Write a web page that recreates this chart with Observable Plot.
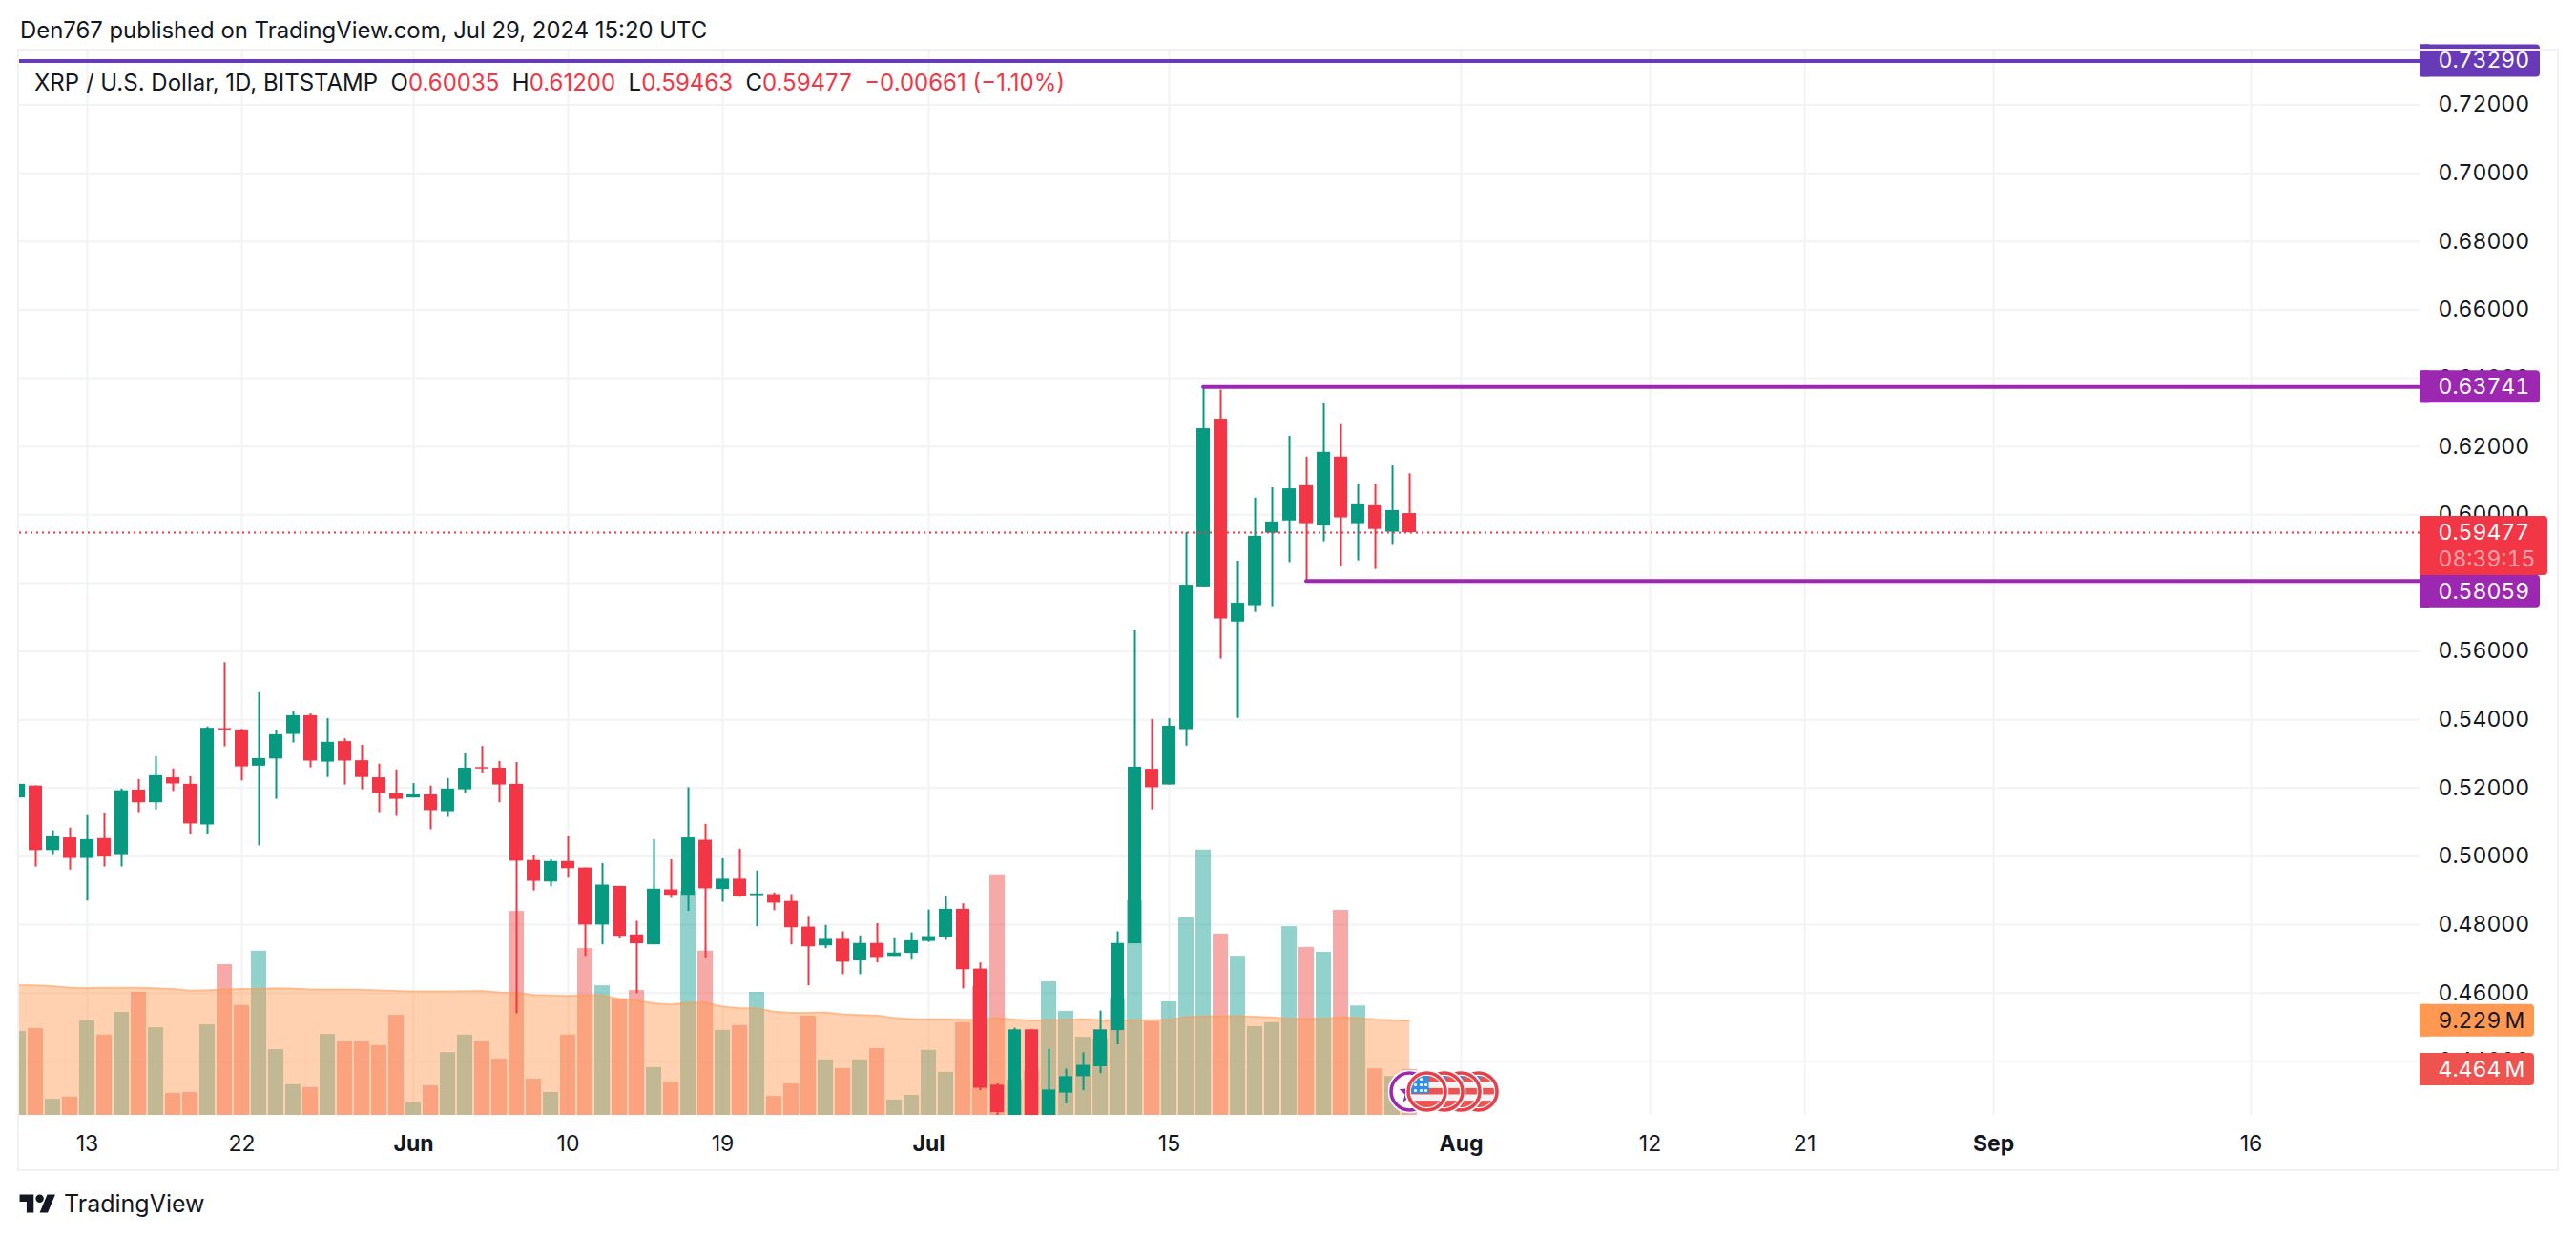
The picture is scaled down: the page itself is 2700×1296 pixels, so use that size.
<!DOCTYPE html>
<html>
<head>
<meta charset="utf-8">
<script src="https://cdn.jsdelivr.net/npm/d3@7"></script>
<script src="https://cdn.jsdelivr.net/npm/@observablehq/plot@0.6"></script>
<style>
html,body{margin:0;padding:0;background:#fff;font-family:Inter,"Noto Sans",sans-serif;color:#131722;width:2700px;height:1296px;overflow:hidden;position:relative}
#head{position:absolute;left:21px;top:16px;font-size:23.9px;line-height:32px;white-space:pre}
#legend{position:absolute;left:36px;top:70px;font-size:24px;line-height:33px;white-space:pre;z-index:2}
#legend b{font-weight:400;color:#f23645}
#chart{position:absolute;left:20px;top:53px}
#chart svg{display:block;outline:2px solid #f0f1f3}
#foot{position:absolute;left:20px;top:1245px;height:34px;display:flex;align-items:center;gap:8px;font-size:25px}
</style>
</head>
<body>
<div id="head">Den767 published on TradingView.com, Jul 29, 2024 15:20 UTC</div>
<div id="legend">XRP / U.S. Dollar, 1D, BITSTAMP  O<b>0.60035</b>  H<b>0.61200</b>  L<b>0.59463</b>  C<b>0.59477</b>  <b>−0.00661 (−1.10%)</b></div>
<div id="chart"></div>
<div id="foot"><svg width="39" height="20" viewBox="0 3.5 36 19"><path fill="#131722" d="M14 22H7V11H0V4h14v18zM28 22h-8l7.5-18h8L28 22z"/><circle fill="#131722" cx="20" cy="8" r="4"/></svg><span>TradingView</span></div>
<script>
const firstDay = "2024-05-09";
const open = [
  .5171,.5206,.5017,.5054,.4994,.5052,.5005,.5194,.5157,.5230,.5211,.5092,.5374,.5370,.5264,.5285,.5357,.5412,.5276,.5336,.5280,.5230,.5183,
  .5171,.5180,.5131,.5195,.5260,.5258,.5211,.4988,.4925,.4985,.4966,.4799,.4912,.4770,.4741,.4902,.4886,.5047,.4903,.4933,.4885,.4888,.4868,.4793,.4738,.4757,.4694,.4745,.4707,.4716,
  .4751,.4763,.4845,.4670,.4330,.4200,.4492,.4200,.4307,.4355,.4384,.4490,.4744,.5255,.5209,.5371,.5789,.6280,.5686,.5734,.5946,.5982,.6085,.5968,.6169,.5974,.6029,.5949,.60035];
const high = [
  .5211,.5206,.5075,.5083,.5119,.5127,.5197,.5225,.5292,.5256,.5233,.5379,.5567,.5372,.5479,.5370,.5425,.5417,.5403,.5344,.5325,.5270,.5253,
  .5213,.5206,.5228,.5300,.5322,.5278,.5275,.5004,.4990,.5057,.4966,.4979,.4912,.4810,.5049,.4990,.5201,.5094,.4993,.5021,.4957,.4893,.4888,.4824,.4798,.4779,.4767,.4803,.4759,.4776,
  .4843,.4881,.4861,.4688,.4334,.4497,.4492,.4435,.4377,.4425,.4547,.4779,.5660,.5401,.5403,.5948,.6374,.6365,.5864,.6049,.6079,.6230,.6169,.6325,.6264,.6090,.6090,.6143,.6120];
const low = [
  .5171,.4969,.5005,.4960,.4869,.4969,.4969,.5128,.5136,.5190,.5064,.5064,.5321,.5221,.5031,.5167,.5332,.5259,.5231,.5209,.5195,.5128,.5117,
  .5171,.5078,.5114,.5184,.5243,.5157,.4539,.4899,.4911,.4936,.4707,.4741,.4758,.4598,.4741,.4877,.4839,.4702,.4866,.4880,.4794,.4841,.4741,.4621,.4730,.4654,.4654,.4688,.4707,.4696,
  .4748,.4754,.4612,.4314,.4241,.4200,.4200,.4200,.4275,.4314,.4364,.4448,.4744,.5136,.5209,.5323,.5786,.5578,.5404,.5714,.5731,.5860,.5806,.5921,.5848,.5865,.5840,.5913,.59463];
const close = [
  .5211,.5017,.5057,.4994,.5049,.4998,.5192,.5157,.5236,.5212,.5095,.5375,.5370,.5262,.5286,.5356,.5412,.5279,.5334,.5279,.5231,.5184,.5167,
  .5180,.5134,.5197,.5258,.5256,.5209,.4986,.4927,.4985,.4964,.4799,.4916,.4766,.4744,.4904,.4886,.5054,.4905,.4933,.4882,.4890,.4863,.4791,.4735,.4757,.4690,.4745,.4704,.4717,.4753,
  .4765,.4845,.4668,.4321,.4250,.4492,.4200,.4316,.4355,.4388,.4492,.4745,.5261,.5201,.5381,.5794,.6252,.5695,.5741,.5937,.5979,.6076,.5974,.6183,.5991,.6032,.5957,.6012,.59477];
const volume = [
  8.19,8.47,1.57,1.78,9.22,7.83,10.04,12.0,8.54,2.14,2.24,8.83,14.7,10.72,16.02,6.41,2.99,2.71,7.9,7.16,7.16,6.8,9.75,
  1.21,2.88,6.12,7.83,7.16,5.48,19.9,3.52,2.24,7.83,16.27,12.64,11.36,12.18,4.66,3.2,21.89,16.02,8.29,8.76,12.0,1.85,3.06,9.68,5.41,4.56,5.41,6.51,1.5,1.96,
  6.34,4.2,9.04,12.53,23.46,3.45,4.34,13.03,10.15,7.62,7.44,11.39,20.93,9.11,11.07,19.26,25.88,17.69,15.52,8.65,9.04,18.41,16.38,15.91,20.0,10.67,4.53,3.79,4.464];
const volumeMA = [
  12.71,12.68,12.6,12.45,12.42,12.43,12.44,12.43,12.4,12.33,12.17,12.2,12.28,12.32,12.35,12.39,12.37,12.28,12.28,12.28,12.25,12.18,12.14,
  12.1,12.1,12.1,12.12,12.14,12.0,11.96,11.75,11.7,11.64,11.71,11.71,11.36,11.2,10.93,10.82,10.97,11.0,10.6,10.47,10.43,10.11,10.0,10.0,10.04,9.86,9.79,9.75,9.5,9.4,
  9.4,9.4,9.36,9.29,9.5,9.36,9.25,9.29,9.33,9.4,9.3,9.25,9.27,9.29,9.36,9.58,9.65,9.68,9.68,9.62,9.55,9.42,9.42,9.44,9.56,9.49,9.34,9.27,9.229];
const priceTicks = [.44,.46,.48,.50,.52,.54,.56,.58,.60,.62,.64,.66,.68,.70,.72];
const dayTicks = ["2024-05-13","2024-05-22","2024-06-10","2024-06-19","2024-07-15","2024-08-12","2024-08-21","2024-09-16"];
const dayLabels = ["13","22","10","19","15","12","21","16"];
const monthTicks = ["2024-06-01","2024-07-01","2024-08-01","2024-09-01"];
const monthLabels = ["Jun","Jul","Aug","Sep"];
const eventDays = ["2024-08-02","2024-08-01","2024-07-31","2024-07-30"];
const starDay = ["2024-07-29"];
const levelTop = 0.7329, levelHigh = 0.63741, levelLow = 0.58059, lastPrice = 0.59477;
const levelHighStart = "2024-07-17", levelLowStart = "2024-07-23";

const up = "#089981", down = "#f23645";
const volUp = "#26a69a", volDown = "#ef5350";
const xLeft = new Date("2024-05-09T01:20Z"), xRight = new Date("2024-09-25T19:55Z");
const yTop = 0.7358, yBase = 0.42416, volStep = 0.003002;
const volY = v => yBase + v * volStep;   // volume pane shares the frame, scaled up from its floor
const day = s => new Date(s + "T00:00Z");

const rows = open.map((o, i) => ({
  date: d3.utcDay.offset(day(firstDay), i),
  open: o, high: high[i], low: low[i], close: close[i],
  vol: volume[i], ma: volumeMA[i], rising: close[i] >= o
}));
const dayDates = dayTicks.map(day), monthDates = monthTicks.map(day);
const allTicks = [...dayDates, ...monthDates];

function flagBadge() {
  const svg = `<svg xmlns="http://www.w3.org/2000/svg" width="46" height="46" viewBox="0 0 46 46"><circle cx="23" cy="23" r="23" fill="#fff"/><clipPath id="c"><circle cx="23" cy="23" r="16.5"/></clipPath><g clip-path="url(#c)"><rect width="46" height="46" fill="#f3f3f6"/><rect y="6" width="46" height="6.6" fill="#ef5350"/><rect y="19.4" width="46" height="6.6" fill="#ef5350"/><rect y="32.6" width="46" height="8" fill="#ef5350"/><rect x="5" y="5" width="20" height="20" fill="#2f8fe6"/><g fill="#fff"><circle cx="11" cy="10" r="1.6"/><circle cx="17" cy="10" r="1.6"/><circle cx="11" cy="16" r="1.6"/><circle cx="17" cy="16" r="1.6"/><circle cx="22" cy="16" r="1.6"/><circle cx="11" cy="22" r="1.6"/><circle cx="17" cy="22" r="1.6"/><circle cx="22" cy="22" r="1.6"/></g></g><circle cx="23" cy="23" r="19.5" fill="none" stroke="#e5404b" stroke-width="3.6"/></svg>`;
  return "data:image/svg+xml," + encodeURIComponent(svg);
}
function starBadge() {
  const svg = `<svg xmlns="http://www.w3.org/2000/svg" width="46" height="46" viewBox="0 0 46 46"><circle cx="23" cy="23" r="23" fill="#fff"/><circle cx="23" cy="23" r="19.5" fill="none" stroke="#9c27b0" stroke-width="3.6"/><path fill="#9c27b0" d="M23 12l3 8 8 .6-6 5.3 2 8-7-4.4-7 4.4 2-8-6-5.3 8-.6z"/></svg>`;
  return "data:image/svg+xml," + encodeURIComponent(svg);
}

function tag({value, label, sub, fill, color, width, height = 34, dy = 0}) {
  const anchor = {x1: () => xRight, x2: () => xRight, y1: d => d, y2: d => d};
  const box = (right, rx) => Plot.rect([value], {...anchor, fill, dy, insetLeft: 0, insetRight: -right, insetTop: -height / 2, insetBottom: -height / 2, rx});
  const txt = {x: () => xRight, y: d => d, dx: 19, textAnchor: "start", fontSize: 23, fontVariant: "tabular-nums", fill: color, lineAnchor: "middle"};
  const marks = [box(width, 4), box(10, 0), Plot.text([value], {...txt, text: () => label, dy: sub ? 0 : dy})];
  if (sub) marks.push(Plot.text([value], {...txt, text: () => sub, dy: 28, fillOpacity: 0.55}));
  return marks;
}

const chart = Plot.plot({
  width: 2660, height: 1173,
  marginLeft: 0, marginRight: 144, marginTop: 0, marginBottom: 57,
  style: {background: "#fff", fontFamily: "Inter, 'Noto Sans', sans-serif", overflow: "visible"},
  x: {type: "utc", domain: [xLeft, xRight], axis: null},
  y: {domain: [yBase, yTop], axis: null},
  marks: [
    Plot.gridY(priceTicks, {stroke: "#f2f3f5", strokeOpacity: 1, strokeWidth: 2}),
    Plot.gridX(allTicks, {stroke: "#f2f3f5", strokeOpacity: 1, strokeWidth: 2}),
    // volume
    Plot.rect(rows, {x1: "date", x2: "date", y1: () => yBase, y2: d => volY(d.vol), insetLeft: -8, insetRight: -8,
      fill: d => d.rising ? volUp : volDown, fillOpacity: 0.5, clip: true}),
    Plot.areaY(rows, {x: "date", y1: () => yBase, y2: d => volY(d.ma), fill: "#ff9850", fillOpacity: 0.45, clip: true}),
    Plot.lineY(rows, {x: "date", y: d => volY(d.ma), stroke: "#ff9850", strokeOpacity: 0.45, strokeWidth: 2, clip: true}),
    // candles
    Plot.ruleX(rows, {x: "date", y1: "low", y2: "high", stroke: d => d.rising ? up : down, strokeWidth: 2, clip: true}),
    Plot.rect(rows, {x1: "date", x2: "date", y1: "open", y2: "close", insetLeft: -7, insetRight: -7,
      fill: d => d.rising ? up : down, clip: true}),
    // levels
    Plot.ruleY([lastPrice], {x1: () => xLeft, x2: () => xRight, stroke: down, strokeWidth: 2, strokeDasharray: "2 4"}),
    Plot.ruleY([levelTop], {x1: () => xLeft, x2: () => xRight, stroke: "#673ab7", strokeWidth: 4}),
    Plot.ruleY([levelHigh], {x1: () => day(levelHighStart), x2: () => xRight, stroke: "#9c27b0", strokeWidth: 4, strokeLinecap: "round"}),
    Plot.ruleY([levelLow], {x1: () => day(levelLowStart), x2: () => xRight, stroke: "#9c27b0", strokeWidth: 4, strokeLinecap: "round"}),
    // events
    Plot.image(starDay, {x: day, frameAnchor: "bottom", dy: -25, src: starBadge, width: 46, height: 46}),
    Plot.image(eventDays, {x: day, frameAnchor: "bottom", dy: -25, src: flagBadge, width: 46, height: 46}),
    // axes
    Plot.axisY(priceTicks, {anchor: "right", tickSize: 0, tickPadding: 19, label: null, tickFormat: d3.format(".5f"), fontSize: 23, fill: "#131722", fontVariant: "tabular-nums"}),
    Plot.text(dayDates, {x: d => d, text: (d, i) => dayLabels[i], frameAnchor: "bottom", dy: 30, lineAnchor: "middle", fontSize: 23, fill: "#131722"}),
    Plot.text(monthDates, {x: d => d, text: (d, i) => monthLabels[i], frameAnchor: "bottom", dy: 30, lineAnchor: "middle", fontSize: 23, fontWeight: 700, fill: "#131722"}),
    // value tags
    tag({value: levelTop, label: "0.73290", fill: "#673ab7", color: "#fff", width: 126}),
    tag({value: levelHigh, label: "0.63741", fill: "#9c27b0", color: "#fff", width: 126}),
    tag({value: levelLow, label: "0.58059", fill: "#9c27b0", color: "#fff", width: 126, dy: 11}),
    tag({value: lastPrice, label: "0.59477", sub: "08:39:15", fill: down, color: "#fff", width: 134, height: 62, dy: 14}),
    tag({value: volY(volumeMA[volumeMA.length - 1]), label: "9.229\u202fM", fill: "#ff9850", color: "#131722", width: 120}),
    tag({value: volY(volume[volume.length - 1]), label: "4.464\u202fM", fill: "#ef5350", color: "#fff", width: 120})
  ]
});
document.getElementById("chart").appendChild(chart);
</script>
</body>
</html>
